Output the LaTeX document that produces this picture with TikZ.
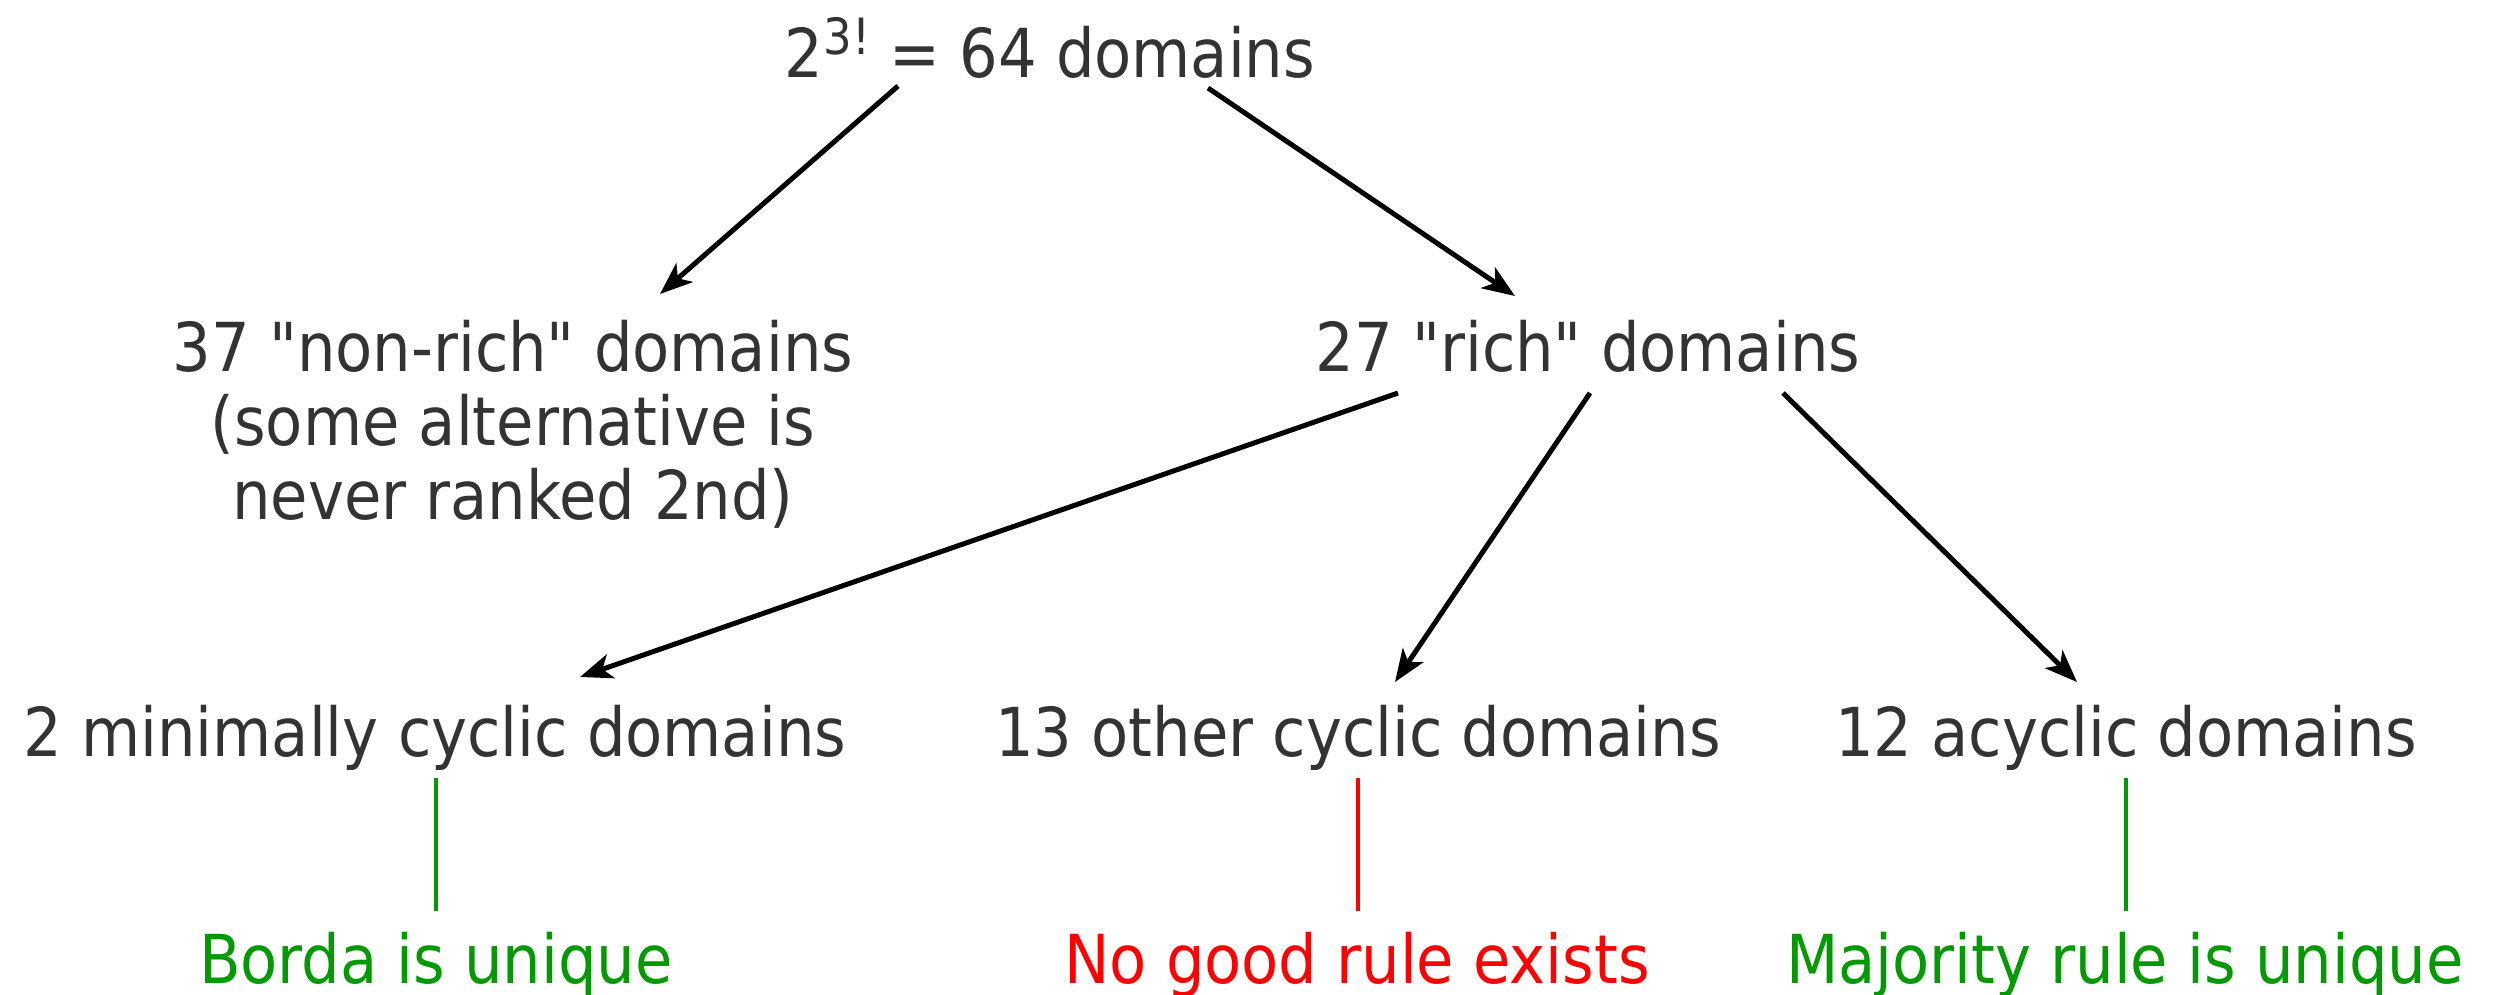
\documentclass[tikz,border=0pt]{standalone}
\usepackage{fontspec}
\setmainfont{DejaVu Sans Condensed}[Ligatures=TeXOff]
\usetikzlibrary{arrows.meta}
\definecolor{txt}{HTML}{333333}
\definecolor{good}{HTML}{009900}
\definecolor{bad}{HTML}{FF0000}
\tikzset{
  lbl/.style={anchor=base, inner sep=0pt, text=txt, font=\fontsize{27}{29.6}\selectfont},
  arr/.style={line width=2pt, -{Stealth[length=13pt,width=10pt,inset=3.5pt]}},
  link/.style={line width=1.6pt}
}
\begin{document}
\begin{tikzpicture}[x=0.4pt,y=-0.4pt]
\useasboundingbox (0,0) rectangle (2505,994);
\node[lbl] (top) at (1050,77) {2\raisebox{9pt}{\fontsize{20}{20}\selectfont 3!} = 64 domains};
\node[lbl] (nonrich) at (513,371) {\begin{tabular}[t]{@{}c@{}}37 "non-rich" domains\\(some alternative is\\never ranked 2nd)\end{tabular}};
\node[lbl] (rich) at (1588,371) {27 "rich" domains};
\node[lbl] (minimal) at (435,756) {2 minimally cyclic domains};
\node[lbl] (other) at (1358,756) {13 other cyclic domains};
\node[lbl] (acyclic) at (2126,756) {12 acyclic domains};
\node[lbl, text=good] (borda) at (436,983) {Borda is unique};
\node[lbl, text=bad] (nogood) at (1357,983) {No good rule exists};
\node[lbl, text=good] (majority) at (2125,983) {Majority rule is unique};

\draw[arr] ([shift={(-152,9)}]top.base) -- ([shift={(147,-77)}]nonrich.base);
\draw[arr] ([shift={(158,11)}]top.base) -- ([shift={(-73,-75)}]rich.base);
\draw[arr] ([shift={(-190,22)}]rich.base) -- ([shift={(145,-79)}]minimal.base);
\draw[arr] ([shift={(2,22)}]rich.base) -- ([shift={(37,-74)}]other.base);
\draw[arr] ([shift={(195,22)}]rich.base) -- ([shift={(-49,-74)}]acyclic.base);
\draw[link, good] ([shift={(1,22)}]minimal.base) -- ([shift={(0,-72)}]borda.base);
\draw[link, bad] ([shift={(0,22)}]other.base) -- ([shift={(1,-72)}]nogood.base);
\draw[link, good] ([shift={(0,22)}]acyclic.base) -- ([shift={(1,-72)}]majority.base);
\end{tikzpicture}
\end{document}
